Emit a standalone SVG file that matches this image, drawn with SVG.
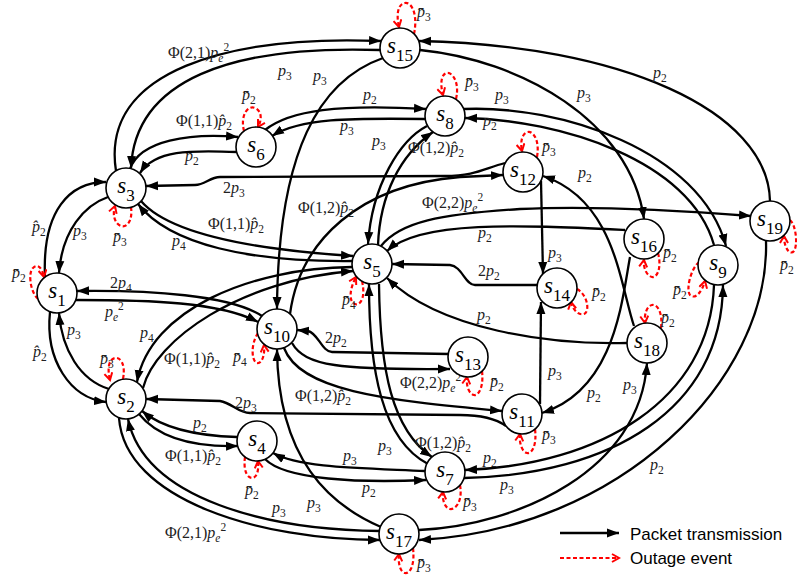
<svg xmlns="http://www.w3.org/2000/svg" width="797" height="576" viewBox="0 0 797 576">
<defs>
<marker id="ah" viewBox="0 0 12 10" refX="12" refY="5" markerWidth="12" markerHeight="10" markerUnits="userSpaceOnUse" orient="auto"><path d="M0,0.5 L12,5 L0,9.5 z" fill="#000"/></marker>
<marker id="rv" viewBox="0 0 10 10" refX="8" refY="5" markerWidth="10" markerHeight="10" markerUnits="userSpaceOnUse" orient="auto"><path d="M1,1 L8,5 L1,9" fill="none" stroke="#f00" stroke-width="2"/></marker>
<style>
.c{fill:none;stroke:#000;stroke-width:2.3;marker-end:url(#ah)}
.l{fill:none;stroke:#f00;stroke-width:2.2;stroke-dasharray:4 2.5;marker-end:url(#rv)}
.n circle{fill:#fff;stroke:#000;stroke-width:1.6}
.nt{font-family:"Liberation Serif",serif;font-size:23px;font-style:italic;text-anchor:middle;fill:#000}
.d{font-size:17px;font-style:normal}
.t{font-family:"Liberation Serif",serif;font-size:16px;fill:#222}
.i{font-style:italic}
.s{font-size:11.5px}
.lg{font-family:"Liberation Sans",sans-serif;font-size:17px;fill:#000}
</style>
</defs>
<rect width="797" height="576" fill="#fff"/>
<g id="connectors">
<path class="c" d="M116,171 C100,70 230,35 381,41"/>
<path class="c" d="M380,50 C230,45 135,80 131,168"/>
<path class="c" d="M237,152 C190,150 155,150 140,173"/>
<path class="c" d="M130,169 C140,140 190,133 238,137"/>
<path class="c" d="M265,130 C290,110 340,104 426,109"/>
<path class="c" d="M425,119 C350,118 300,118 272,136"/>
<path class="c" d="M464,109 C560,105 700,150 726,246"/>
<path class="c" d="M714,245 C690,160 560,120 465,118"/>
<path class="c" d="M290,314 C300,240 360,185 460,177 L503,175"/>
<path class="c" d="M505,163 C485,168 475,176 445,176 L220,177 C210,177 205,185 195,185 L146,186"/>
<path class="c" d="M427,126 C400,140 372,185 368,244"/>
<path class="c" d="M378,245 C380,195 400,155 433,132"/>
<path class="c" d="M379,284 C380,370 392,430 432,457"/>
<path class="c" d="M428,464 C382,440 369,370 369,284"/>
<path class="c" d="M425,471 C360,468 300,468 273,453"/>
<path class="c" d="M265,459 C285,480 360,483 426,480"/>
<path class="c" d="M237,437 C200,436 165,430 142,411"/>
<path class="c" d="M139,414 C160,440 200,447 238,446"/>
<path class="c" d="M506,426 C495,418 480,415 460,415 L250,413 C238,413 232,403 220,401 L146,399"/>
<path class="c" d="M284,348 C300,390 380,400 502,411"/>
<path class="c" d="M292,343 C305,366 340,370 450,369"/>
<path class="c" d="M449,354 L332,352 C322,352 318,333 308,331 L297,330"/>
<path class="c" d="M381,527 C330,505 278,460 277,349"/>
<path class="c" d="M380,531 C270,530 145,500 128,419"/>
<path class="c" d="M119,418 C125,500 260,540 380,540"/>
<path class="c" d="M45,277 C42,210 70,182 106,182"/>
<path class="c" d="M108,197 C85,205 62,230 59,273"/>
<path class="c" d="M50,312 C45,360 70,398 106,402"/>
<path class="c" d="M109,389 C80,380 62,350 59,313"/>
<path class="c" d="M262,316 C230,295 150,290 77,291"/>
<path class="c" d="M76,300 C150,300 220,302 258,322"/>
<path class="c" d="M141,201 C170,235 260,250 353,256"/>
<path class="c" d="M352,261 C250,262 170,245 138,204"/>
<path class="c" d="M352,267 C250,268 150,310 137,382"/>
<path class="c" d="M143,388 C155,340 240,280 353,271"/>
<path class="c" d="M538,285 L475,285 C465,285 462,266 450,265 L392,264"/>
<path class="c" d="M627,343 C550,345 440,330 387,278"/>
<path class="c" d="M625,230 C520,225 420,220 387,251"/>
<path class="c" d="M381,246 C400,222 440,214 520,209 C600,205 700,212 751,216"/>
<path class="c" d="M541,181 L543,274"/>
<path class="c" d="M540,404 L541,302"/>
<path class="c" d="M383,58 C320,80 278,150 277,309"/>
<path class="c" d="M420,50 C520,60 630,120 644,219"/>
<path class="c" d="M770,201 C768,110 620,45 419,41"/>
<path class="c" d="M766,241 C770,380 620,530 419,540"/>
<path class="c" d="M419,530 C520,525 640,470 647,363"/>
<path class="c" d="M714,285 C710,400 600,465 465,470"/>
<path class="c" d="M464,478 C610,475 722,410 723,285"/>
<path class="c" d="M634,326 C620,285 615,200 543,176"/>
<path class="c" d="M630,257 C622,300 615,390 542,413"/>
<!-- outage loops -->
<path class="l" d="M414,34 C418,15 412,2 405,3 C398,4 396,14 399,27"/>
<path class="l" d="M456,99 C460,82 452,72 447,73 C441,74 440,84 443,95"/>
<path class="l" d="M537,157 C540,140 533,131 528,132 C522,133 520,142 522,151"/>
<path class="l" d="M244,131 C240,115 248,105 255,108 C262,111 262,120 258,127"/>
<path class="l" d="M131,207 C133,222 126,228 121,226 C115,224 112,215 115,206"/>
<path class="l" d="M38,299 C30,292 28,272 33,268 C38,263 42,268 44,277"/>
<path class="l" d="M123,379 C126,364 120,357 115,358 C109,359 107,368 110,380"/>
<path class="l" d="M245,457 C243,472 248,478 252,478 C257,478 259,470 258,461"/>
<path class="l" d="M258,333 C250,345 252,362 257,363 C262,364 265,355 264,345"/>
<path class="l" d="M362,281 C366,298 360,306 355,304 C349,302 349,290 356,277"/>
<path class="l" d="M482,371 C484,388 478,396 474,395 C469,394 466,386 467,377"/>
<path class="l" d="M535,429 C537,445 532,454 527,453 C522,452 519,443 520,434"/>
<path class="l" d="M460,485 C463,502 455,510 450,509 C445,508 442,500 443,492"/>
<path class="l" d="M413,548 C415,565 410,574 405,573 C400,572 398,563 399,554"/>
<path class="l" d="M577,289 C588,295 590,312 584,314 C578,316 572,308 571,302"/>
<path class="l" d="M658,253 C662,268 657,278 652,277 C647,276 643,268 644,260"/>
<path class="l" d="M699,262 C690,270 686,290 690,295 C695,300 702,292 705,281"/>
<path class="l" d="M661,328 C663,312 657,304 652,305 C647,306 644,314 645,323"/>
<path class="l" d="M790,220 C796,225 798,245 794,251 C790,256 784,248 784,236"/>
</g>
<g id="edge-labels">
<text class="t" x="168" y="58">Φ(2,1)<tspan class="i">p</tspan><tspan class="i s" dy="4">e</tspan><tspan class="s" dy="-11">2</tspan></text>
<text class="t" x="278" y="76"><tspan class="i">p</tspan><tspan class="s" dy="4">3</tspan></text>
<text class="t" x="313" y="81"><tspan class="i">p</tspan><tspan class="s" dy="4">3</tspan></text>
<text class="t" x="417" y="17"><tspan class="i">p&#772;</tspan><tspan class="s" dy="4">3</tspan></text>
<text class="t" x="363" y="100"><tspan class="i">p</tspan><tspan class="s" dy="4">2</tspan></text>
<text class="t" x="340" y="131"><tspan class="i">p</tspan><tspan class="s" dy="4">3</tspan></text>
<text class="t" x="465" y="87"><tspan class="i">p&#772;</tspan><tspan class="s" dy="4">3</tspan></text>
<text class="t" x="495" y="100"><tspan class="i">p</tspan><tspan class="s" dy="4">3</tspan></text>
<text class="t" x="483" y="126"><tspan class="i">p</tspan><tspan class="s" dy="4">2</tspan></text>
<text class="t" x="372" y="146"><tspan class="i">p</tspan><tspan class="s" dy="4">3</tspan></text>
<text class="t" x="408" y="153">Φ(1,2)<tspan class="i">p&#770;</tspan><tspan class="s" dy="4">2</tspan></text>
<text class="t" x="242" y="100"><tspan class="i">p&#772;</tspan><tspan class="s" dy="4">2</tspan></text>
<text class="t" x="176" y="126">Φ(1,1)<tspan class="i">p&#770;</tspan><tspan class="s" dy="4">2</tspan></text>
<text class="t" x="185" y="161"><tspan class="i">p</tspan><tspan class="s" dy="4">2</tspan></text>
<text class="t" x="223" y="193">2<tspan class="i">p</tspan><tspan class="s" dy="4">3</tspan></text>
<text class="t" x="577" y="98"><tspan class="i">p</tspan><tspan class="s" dy="4">3</tspan></text>
<text class="t" x="653" y="78"><tspan class="i">p</tspan><tspan class="s" dy="4">2</tspan></text>
<text class="t" x="542" y="152"><tspan class="i">p&#772;</tspan><tspan class="s" dy="4">3</tspan></text>
<text class="t" x="578" y="178"><tspan class="i">p</tspan><tspan class="s" dy="4">2</tspan></text>
<text class="t" x="32" y="232"><tspan class="i">p&#770;</tspan><tspan class="s" dy="4">2</tspan></text>
<text class="t" x="73" y="236"><tspan class="i">p</tspan><tspan class="s" dy="4">3</tspan></text>
<text class="t" x="113" y="242"><tspan class="i">p&#772;</tspan><tspan class="s" dy="4">3</tspan></text>
<text class="t" x="208" y="229">Φ(1,1)<tspan class="i">p&#770;</tspan><tspan class="s" dy="4">2</tspan></text>
<text class="t" x="172" y="246"><tspan class="i">p</tspan><tspan class="s" dy="4">4</tspan></text>
<text class="t" x="12" y="278"><tspan class="i">p&#772;</tspan><tspan class="s" dy="4">2</tspan></text>
<text class="t" x="110" y="288">2<tspan class="i">p</tspan><tspan class="s" dy="4">4</tspan></text>
<text class="t" x="105" y="317"><tspan class="i">p</tspan><tspan class="i s" dy="4">e</tspan><tspan class="s" dy="-11">2</tspan></text>
<text class="t" x="67" y="335"><tspan class="i">p</tspan><tspan class="s" dy="4">3</tspan></text>
<text class="t" x="33" y="357"><tspan class="i">p&#770;</tspan><tspan class="s" dy="4">2</tspan></text>
<text class="t" x="140" y="338"><tspan class="i">p</tspan><tspan class="s" dy="4">4</tspan></text>
<text class="t" x="164" y="364">Φ(1,1)<tspan class="i">p&#770;</tspan><tspan class="s" dy="4">2</tspan></text>
<text class="t" x="100" y="364"><tspan class="i">p&#772;</tspan><tspan class="s" dy="4">3</tspan></text>
<text class="t" x="233" y="362"><tspan class="i">p&#772;</tspan><tspan class="s" dy="4">4</tspan></text>
<text class="t" x="325" y="343">2<tspan class="i">p</tspan><tspan class="s" dy="4">2</tspan></text>
<text class="t" x="298" y="213">Φ(1,2)<tspan class="i">p&#770;</tspan><tspan class="s" dy="4">2</tspan></text>
<text class="t" x="422" y="208">Φ(2,2)<tspan class="i">p</tspan><tspan class="i s" dy="4">e</tspan><tspan class="s" dy="-11">2</tspan></text>
<text class="t" x="478" y="238"><tspan class="i">p</tspan><tspan class="s" dy="4">2</tspan></text>
<text class="t" x="478" y="276">2<tspan class="i">p</tspan><tspan class="s" dy="4">2</tspan></text>
<text class="t" x="477" y="320"><tspan class="i">p</tspan><tspan class="s" dy="4">2</tspan></text>
<text class="t" x="342" y="305"><tspan class="i">p&#772;</tspan><tspan class="s" dy="4">4</tspan></text>
<text class="t" x="548" y="258"><tspan class="i">p</tspan><tspan class="s" dy="4">3</tspan></text>
<text class="t" x="592" y="297"><tspan class="i">p&#772;</tspan><tspan class="s" dy="4">2</tspan></text>
<text class="t" x="663" y="258"><tspan class="i">p&#772;</tspan><tspan class="s" dy="4">2</tspan></text>
<text class="t" x="673" y="295"><tspan class="i">p&#772;</tspan><tspan class="s" dy="4">2</tspan></text>
<text class="t" x="661" y="323"><tspan class="i">p&#772;</tspan><tspan class="s" dy="4">2</tspan></text>
<text class="t" x="780" y="270"><tspan class="i">p&#772;</tspan><tspan class="s" dy="4">2</tspan></text>
<text class="t" x="548" y="376"><tspan class="i">p</tspan><tspan class="s" dy="4">3</tspan></text>
<text class="t" x="165" y="538">Φ(2,1)<tspan class="i">p</tspan><tspan class="i s" dy="4">e</tspan><tspan class="s" dy="-11">2</tspan></text>
<text class="t" x="235" y="408">2<tspan class="i">p</tspan><tspan class="s" dy="4">3</tspan></text>
<text class="t" x="193" y="428"><tspan class="i">p</tspan><tspan class="s" dy="4">2</tspan></text>
<text class="t" x="165" y="461">Φ(1,1)<tspan class="i">p&#770;</tspan><tspan class="s" dy="4">2</tspan></text>
<text class="t" x="245" y="495"><tspan class="i">p&#772;</tspan><tspan class="s" dy="4">2</tspan></text>
<text class="t" x="400" y="388">Φ(2,2)<tspan class="i">p</tspan><tspan class="i s" dy="4">e</tspan><tspan class="s" dy="-11">2</tspan></text>
<text class="t" x="490" y="387"><tspan class="i">p&#772;</tspan><tspan class="s" dy="4">2</tspan></text>
<text class="t" x="295" y="401">Φ(1,2)<tspan class="i">p&#770;</tspan><tspan class="s" dy="4">2</tspan></text>
<text class="t" x="415" y="448">Φ(1,2)<tspan class="i">p&#770;</tspan><tspan class="s" dy="4">2</tspan></text>
<text class="t" x="378" y="451"><tspan class="i">p</tspan><tspan class="s" dy="4">3</tspan></text>
<text class="t" x="343" y="461"><tspan class="i">p</tspan><tspan class="s" dy="4">3</tspan></text>
<text class="t" x="362" y="493"><tspan class="i">p</tspan><tspan class="s" dy="4">2</tspan></text>
<text class="t" x="483" y="463"><tspan class="i">p</tspan><tspan class="s" dy="4">2</tspan></text>
<text class="t" x="500" y="490"><tspan class="i">p</tspan><tspan class="s" dy="4">3</tspan></text>
<text class="t" x="463" y="507"><tspan class="i">p&#772;</tspan><tspan class="s" dy="4">3</tspan></text>
<text class="t" x="307" y="508"><tspan class="i">p</tspan><tspan class="s" dy="4">3</tspan></text>
<text class="t" x="272" y="513"><tspan class="i">p</tspan><tspan class="s" dy="4">3</tspan></text>
<text class="t" x="417" y="568"><tspan class="i">p&#772;</tspan><tspan class="s" dy="4">3</tspan></text>
<text class="t" x="542" y="440"><tspan class="i">p&#772;</tspan><tspan class="s" dy="4">3</tspan></text>
<text class="t" x="587" y="398"><tspan class="i">p</tspan><tspan class="s" dy="4">2</tspan></text>
<text class="t" x="623" y="390"><tspan class="i">p</tspan><tspan class="s" dy="4">3</tspan></text>
<text class="t" x="650" y="470"><tspan class="i">p</tspan><tspan class="s" dy="4">2</tspan></text>
</g>
<g id="s1" class="n"><circle cx="57" cy="293" r="20"/><text class="nt" x="57" y="298">s<tspan class="d" dy="8">1</tspan></text></g>
<g id="s2" class="n"><circle cx="126" cy="399" r="20"/><text class="nt" x="126" y="404">s<tspan class="d" dy="8">2</tspan></text></g>
<g id="s3" class="n"><circle cx="126" cy="188" r="20"/><text class="nt" x="126" y="193">s<tspan class="d" dy="8">3</tspan></text></g>
<g id="s4" class="n"><circle cx="257" cy="441" r="20"/><text class="nt" x="257" y="446">s<tspan class="d" dy="8">4</tspan></text></g>
<g id="s5" class="n"><circle cx="372" cy="264" r="20"/><text class="nt" x="372" y="269">s<tspan class="d" dy="8">5</tspan></text></g>
<g id="s6" class="n"><circle cx="256" cy="147" r="20"/><text class="nt" x="256" y="152">s<tspan class="d" dy="8">6</tspan></text></g>
<g id="s7" class="n"><circle cx="445" cy="472" r="20"/><text class="nt" x="445" y="477">s<tspan class="d" dy="8">7</tspan></text></g>
<g id="s8" class="n"><circle cx="445" cy="116" r="20"/><text class="nt" x="445" y="121">s<tspan class="d" dy="8">8</tspan></text></g>
<g id="s9" class="n"><circle cx="718" cy="265" r="20"/><text class="nt" x="718" y="270">s<tspan class="d" dy="8">9</tspan></text></g>
<g id="s10" class="n"><circle cx="277" cy="329" r="20"/><text class="nt" x="277" y="334">s<tspan class="d" dy="8">10</tspan></text></g>
<g id="s11" class="n"><circle cx="522" cy="414" r="20"/><text class="nt" x="522" y="419">s<tspan class="d" dy="8">11</tspan></text></g>
<g id="s12" class="n"><circle cx="523" cy="172" r="20"/><text class="nt" x="523" y="177">s<tspan class="d" dy="8">12</tspan></text></g>
<g id="s13" class="n"><circle cx="468" cy="357" r="20"/><text class="nt" x="468" y="362">s<tspan class="d" dy="8">13</tspan></text></g>
<g id="s14" class="n"><circle cx="557" cy="288" r="20"/><text class="nt" x="557" y="293">s<tspan class="d" dy="8">14</tspan></text></g>
<g id="s15" class="n"><circle cx="400" cy="48" r="20"/><text class="nt" x="400" y="53">s<tspan class="d" dy="8">15</tspan></text></g>
<g id="s16" class="n"><circle cx="644" cy="239" r="20"/><text class="nt" x="644" y="244">s<tspan class="d" dy="8">16</tspan></text></g>
<g id="s17" class="n"><circle cx="399" cy="534" r="20"/><text class="nt" x="399" y="539">s<tspan class="d" dy="8">17</tspan></text></g>
<g id="s18" class="n"><circle cx="647" cy="343" r="20"/><text class="nt" x="647" y="348">s<tspan class="d" dy="8">18</tspan></text></g>
<g id="s19" class="n"><circle cx="770" cy="221" r="20"/><text class="nt" x="770" y="226">s<tspan class="d" dy="8">19</tspan></text></g>
<g id="legend">
<path class="c" d="M560,533 L619,533"/>
<path class="l" d="M560,558 L619,558"/>
<text class="lg" x="630" y="540">Packet transmission</text>
<text class="lg" x="630" y="564">Outage event</text>
</g>
</svg>
